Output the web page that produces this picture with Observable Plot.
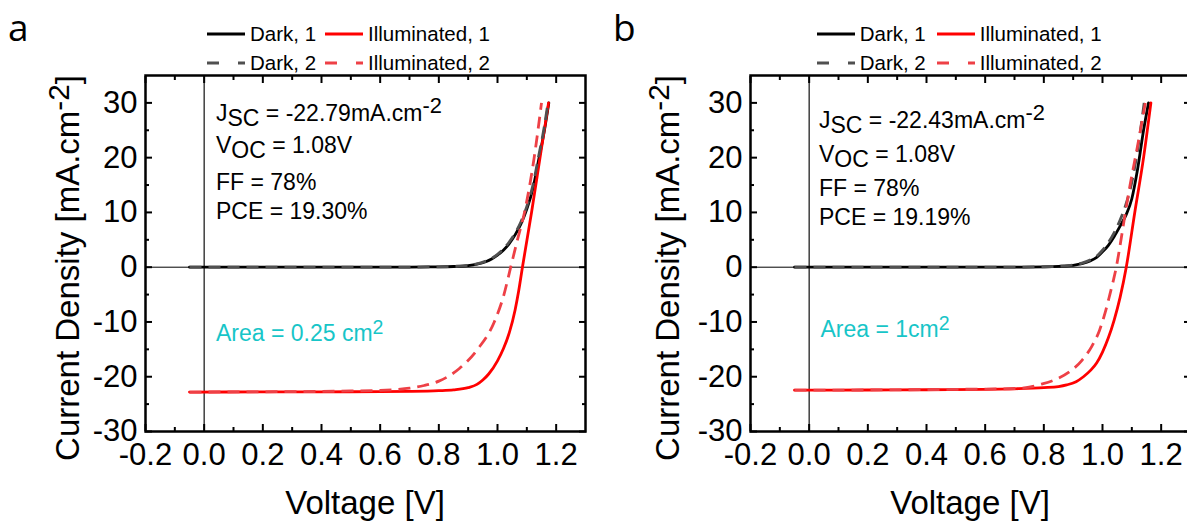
<!DOCTYPE html>
<html><head><meta charset="utf-8">
<script src="https://cdn.jsdelivr.net/npm/d3@7"></script>
<script src="https://cdn.jsdelivr.net/npm/@observablehq/plot@0.6"></script>
<style>
html,body{margin:0;padding:0;background:#fff;}
body{width:1187px;height:525px;overflow:hidden;position:relative;font-family:Arial,"Liberation Sans",sans-serif;color:#000;}
.panel{position:absolute;top:0;width:600px;height:525px;}
.panel svg{position:absolute;left:0;top:0;}
.abs{position:absolute;white-space:nowrap;line-height:1;}
.sup{position:relative;top:-0.35em;font-size:0.85em;}
.sub{position:relative;top:0.25em;}
</style></head><body>
<div id="pa" class="panel" style="left:0"></div>
<div id="pb" class="panel" style="left:605px"></div>
<script>
// ---------- tick values ----------
const xMajor = [-0.2, 0, 0.2, 0.4, 0.6, 0.8, 1.0, 1.2];
const xMinor = [-0.1, 0.1, 0.3, 0.5, 0.7, 0.9, 1.1];
const yMajor = [-30, -20, -10, 0, 10, 20, 30];
const yMinor = [-25, -15, -5, 5, 15, 25];

// ---------- panel a (Area = 0.25 cm2) ----------
const aDark1V = [-0.05, 0.2, 0.5, 0.7, 0.8, 0.85, 0.9, 0.93, 0.96, 0.98, 1.0, 1.02, 1.04, 1.06, 1.08, 1.1, 1.12, 1.14, 1.16, 1.175];
const aDark1J = [0, 0, 0, 0.02, 0.06, 0.13, 0.3, 0.55, 1.0, 1.5, 2.2, 3.1, 4.3, 5.9, 7.9, 10.6, 14.2, 19.5, 25, 30];
const aDark2V = [-0.05, 0.2, 0.5, 0.7, 0.8, 0.85, 0.9, 0.93, 0.96, 0.98, 1.0, 1.02, 1.04, 1.06, 1.08, 1.1, 1.12, 1.14, 1.16, 1.172];
const aDark2J = [0, 0, 0, 0.02, 0.07, 0.15, 0.33, 0.6, 1.1, 1.6, 2.35, 3.3, 4.6, 6.2, 8.3, 11.1, 14.8, 20.2, 25.8, 30];
const aIll1V = [-0.05, 0.2, 0.4, 0.6, 0.7, 0.8, 0.85, 0.9, 0.93, 0.95, 0.97, 1.0, 1.02, 1.04, 1.06, 1.072, 1.085, 1.116, 1.145, 1.174];
const aIll1J = [-22.8, -22.78, -22.75, -22.72, -22.68, -22.55, -22.4, -22.0, -21.4, -20.6, -19.5, -17.1, -14.9, -12.0, -7.8, -4.4, 0, 10, 20, 30];
const aIll2V = [-0.05, 0.2, 0.4, 0.5, 0.6, 0.65, 0.7, 0.75, 0.8, 0.87, 0.932, 0.989, 1.022, 1.045, 1.068, 1.092, 1.125, 1.15];
const aIll2J = [-22.8, -22.75, -22.68, -22.6, -22.5, -22.35, -22.1, -21.6, -20.8, -18.5, -15, -10, -5, 0, 5, 10, 20, 30];

// ---------- panel b (Area = 1 cm2) ----------
const bDark1V = [-0.05, 0.2, 0.5, 0.7, 0.8, 0.85, 0.9, 0.93, 0.96, 0.98, 1.0, 1.02, 1.04, 1.06, 1.08, 1.1, 1.12, 1.14, 1.157];
const bDark1J = [0, 0, 0, 0.02, 0.07, 0.15, 0.35, 0.65, 1.2, 1.8, 2.8, 4.0, 5.6, 7.5, 9.5, 12.5, 18, 25, 30];
const bDark2V = [-0.05, 0.2, 0.5, 0.7, 0.8, 0.85, 0.9, 0.93, 0.96, 0.98, 1.0, 1.02, 1.04, 1.06, 1.08, 1.1, 1.12, 1.142];
const bDark2J = [0, 0, 0, 0.02, 0.08, 0.17, 0.4, 0.75, 1.35, 2.0, 3.1, 4.5, 6.3, 8.6, 11.5, 15.5, 21.5, 30];
const bIll1V = [-0.05, 0.2, 0.4, 0.6, 0.7, 0.8, 0.85, 0.878, 0.91, 0.935, 0.96, 0.98, 1.0, 1.02, 1.04, 1.06, 1.081, 1.11, 1.14, 1.165];
const bIll1J = [-22.45, -22.42, -22.38, -22.3, -22.2, -22.0, -21.8, -21.5, -20.9, -20.0, -18.8, -17.5, -15.5, -12.9, -9.6, -5.5, 0, 10, 20, 30];
const bIll2V = [-0.05, 0.2, 0.4, 0.5, 0.6, 0.7, 0.75, 0.788, 0.84, 0.89, 0.93, 0.964, 0.99, 1.009, 1.025, 1.038, 1.047, 1.06, 1.075, 1.094, 1.119, 1.146];
const bIll2J = [-22.45, -22.42, -22.35, -22.3, -22.25, -22.15, -21.9, -21.4, -20.5, -19, -17, -14.4, -11.5, -8.3, -5, -2.2, 0, 4, 9, 15, 22, 30];

// ---------- texts ----------
const seriesNames = ["Dark, 1", "Illuminated, 1", "Dark, 2", "Illuminated, 2"];
const aStats = ["J<span class='sub'>SC</span> = -22.79mA.cm<span class='sup' style='font-size:0.95em'>-2</span>", "V<span class='sub'>OC</span> = 1.08V", "FF = 78%", "PCE = 19.30%"];
const bStats = ["J<span class='sub'>SC</span> = -22.43mA.cm<span class='sup' style='font-size:0.95em'>-2</span>", "V<span class='sub'>OC</span> = 1.08V", "FF = 78%", "PCE = 19.19%"];
const aArea = "Area = 0.25 cm<span class='sup'>2</span>";
const bArea = "Area = 1cm<span class='sup'>2</span>";

const styles = [
  {stroke: "#000000", dash: null},
  {stroke: "#ff0000", dash: null},
  {stroke: "#505050", dash: "12,7"},
  {stroke: "#ee4046", dash: "12,7"}
];

function lineMark(V, J, s) {
  return Plot.line(V, {x: V, y: J, stroke: s.stroke, strokeWidth: 2.8, curve: "monotone-x",
    strokeDasharray: s.dash, strokeLinecap: s.dash ? "butt" : "round"});
}

function makePlot(curves) {
  const tickOpts = {strokeWidth: 2, stroke: "#000", fill: "none", label: null};
  return Plot.plot({
    width: 600, height: 525,
    marginLeft: 145, marginRight: 15, marginTop: 75, marginBottom: 94,
    style: {fontFamily: "Arial, 'Liberation Sans', sans-serif", fontSize: "31px", color: "#000", background: "transparent", overflow: "visible"},
    x: {domain: [-0.2, 1.3]},
    y: {domain: [-30, 35]},
    marks: [
      Plot.ruleY([0], {stroke: "#000", strokeWidth: 1}),
      Plot.ruleX([0], {stroke: "#222", strokeWidth: 1.3}),
      lineMark(curves[0][0], curves[0][1], styles[0]),
      lineMark(curves[1][0], curves[1][1], styles[1]),
      lineMark(curves[2][0], curves[2][1], styles[2]),
      lineMark(curves[3][0], curves[3][1], styles[3]),
      Plot.frame({stroke: "#000", strokeWidth: 2.5}),
      Plot.axisX(xMajor, {anchor: "bottom", tickSize: -7, ...tickOpts}),
      Plot.axisX(xMinor, {anchor: "bottom", tickSize: -4, ...tickOpts}),
      Plot.axisX(xMajor, {anchor: "top", tickSize: -7, ...tickOpts}),
      Plot.axisX(xMinor, {anchor: "top", tickSize: -4, ...tickOpts}),
      Plot.axisY(yMajor, {anchor: "left", tickSize: -7, ...tickOpts}),
      Plot.axisY(yMinor, {anchor: "left", tickSize: -4, ...tickOpts}),
      Plot.axisY(yMajor, {anchor: "right", tickSize: -7, ...tickOpts}),
      Plot.axisY(yMinor, {anchor: "right", tickSize: -4, ...tickOpts}),
      Plot.axisX(xMajor, {anchor: "bottom", tickSize: 0, tickPadding: 11, tickFormat: d => d.toFixed(1), label: null}),
      Plot.axisY(yMajor, {anchor: "left", tickSize: 0, tickPadding: 8, tickFormat: d => String(d), label: null})
    ]
  });
}

function addText(parent, html, x, baseline, size, extra = {}) {
  const d = document.createElement("div");
  d.className = "abs";
  d.style.fontSize = size + "px";
  d.style.left = x + "px";
  d.style.top = (baseline - 0.8465 * size) + "px";
  Object.assign(d.style, extra);
  d.innerHTML = html;
  parent.appendChild(d);
  return d;
}

function addLegend(parent, x1, x2, r1, r2) {
  const pos = [[x1, r1], [x2, r1], [x1, r2], [x2, r2]];
  pos.forEach(([x, y], i) => {
    const s = styles[i];
    const ns = "http://www.w3.org/2000/svg";
    const svg = document.createElementNS(ns, "svg");
    svg.setAttribute("width", 38); svg.setAttribute("height", 10);
    svg.style.position = "absolute"; svg.style.left = x + "px"; svg.style.top = (y - 5) + "px";
    const ln = document.createElementNS(ns, "line");
    ln.setAttribute("x1", 0); ln.setAttribute("x2", 38); ln.setAttribute("y1", 5); ln.setAttribute("y2", 5);
    ln.setAttribute("stroke", s.stroke); ln.setAttribute("stroke-width", 3);
    if (s.dash) ln.setAttribute("stroke-dasharray", "12 19");
    svg.appendChild(ln);
    parent.appendChild(svg);
    addText(parent, seriesNames[i], x + 43, y + 7.5, 20.5);
  });
}

function decorate(parent, label, stats, statBase, statX, area, areaX, areaBase, legX1, legX2, yTitleCx) {
  addText(parent, label, 8, 36, 37, {fontFamily: "'Open Sans', sans-serif", lineHeight: "1.2"});
  addLegend(parent, legX1, legX2, 34, 62.7);
  stats.forEach((s, i) => addText(parent, s, statX, statBase[i], 23));
  addText(parent, area, areaX, areaBase, 23, {color: "#17c5c8"});
  addText(parent, "Voltage [V]", 365, 514, 33, {transform: "translateX(-50%)"});
  const yt = document.createElement("div");
  yt.className = "abs";
  yt.style.fontSize = "33px";
  yt.style.left = yTitleCx + "px";
  yt.style.top = "268px";
  yt.style.transform = "translate(-50%,-50%) rotate(-90deg)";
  yt.innerHTML = "Current Density [mA.cm<span class='sup' style='font-size:0.9em'>-2</span>]";
  parent.appendChild(yt);
}

const pa = document.getElementById("pa");
const pb = document.getElementById("pb");
pa.appendChild(makePlot([[aDark1V, aDark1J], [aIll1V, aIll1J], [aDark2V, aDark2J], [aIll2V, aIll2J]]));
pb.appendChild(makePlot([[bDark1V, bDark1J], [bIll1V, bIll1J], [bDark2V, bDark2J], [bIll2V, bIll2J]]));
decorate(pa, "a", aStats, [121, 153, 190, 219], 216, aArea, 216, 341.5, 207, 325, 66.6);
decorate(pb, "b", bStats, [128, 162, 196, 225], 214, bArea, 215.5, 337, 211.7, 331.7, 61.6);
</script>
</body></html>
